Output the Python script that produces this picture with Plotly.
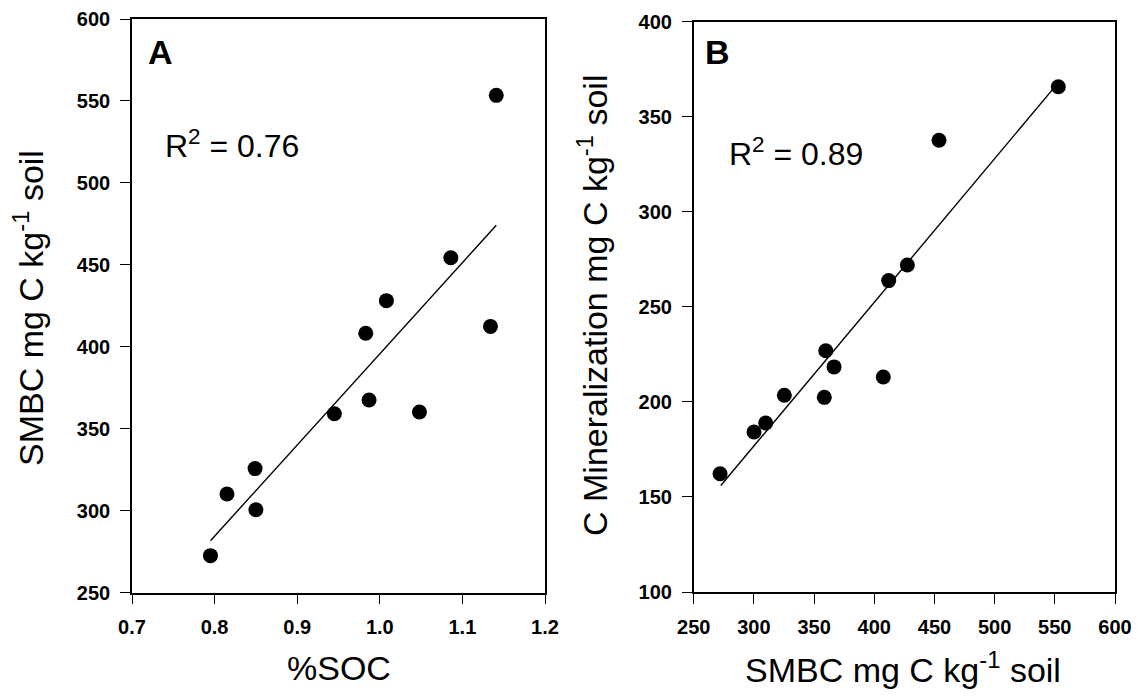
import plotly.graph_objects as go
from plotly.subplots import make_subplots

# Panel A: %SOC vs SMBC
soc_pct = [1.141, 1.086, 1.008, 0.983, 1.134, 0.987, 0.945, 1.048, 0.849, 0.815, 0.850, 0.795]
smbc_a = [553.4, 454.3, 428.1, 408.2, 412.4, 367.5, 359.1, 360.2, 325.6, 310.1, 300.5, 272.5]
fit_a_x = [0.795, 1.141]
fit_a_y = [281.6, 474.1]

# Panel B: SMBC vs C mineralization
smbc_b = [552.9, 453.8, 427.5, 412.0, 359.7, 366.6, 407.5, 325.3, 358.5, 309.8, 300.1, 271.9]
c_min = [365.8, 337.6, 272.0, 263.8, 226.9, 218.4, 213.1, 203.5, 202.4, 188.9, 184.2, 162.2]
fit_b_x = [272.5, 551.0]
fit_b_y = [156.0, 366.5]

ticks_a_x = [0.7, 0.8, 0.9, 1.0, 1.1, 1.2]
ticks_a_y = [250, 300, 350, 400, 450, 500, 550, 600]
ticks_b_x = [250, 300, 350, 400, 450, 500, 550, 600]
ticks_b_y = [100, 150, 200, 250, 300, 350, 400]

FONT = "Liberation Sans, Arial, sans-serif"
OFF = 8  # page body margin
W, H = 1144 - OFF, 698 - OFF


def px_x(p):
    return (p - OFF) / W


def px_y(p):
    return 1 - (p - OFF) / H


fig = make_subplots(rows=1, cols=2)

for col, (xs, ys, fx, fy) in enumerate([(soc_pct, smbc_a, fit_a_x, fit_a_y),
                                         (smbc_b, c_min, fit_b_x, fit_b_y)], start=1):
    fig.add_trace(go.Scatter(x=fx, y=fy, mode='lines',
                             line=dict(color='black', width=1.4),
                             showlegend=False, hoverinfo='skip'), row=1, col=col)
    fig.add_trace(go.Scatter(x=xs, y=ys, mode='markers',
                             marker=dict(color='black', size=15),
                             showlegend=False), row=1, col=col)

axis_common = dict(
    showgrid=False, zeroline=False, showline=True, mirror=True,
    linecolor='black', linewidth=1.6,
    ticks='outside', ticklen=10, tickwidth=1.4, tickcolor='black',
    tickfont=dict(family=FONT, size=20, color='black', weight='bold'),
    automargin=False,
)

fig.update_layout(
    width=W, height=H,
    margin=dict(l=0, r=0, t=0, b=0),
    plot_bgcolor='white', paper_bgcolor='white',
    showlegend=False,
    xaxis=dict(axis_common, domain=[px_x(132), px_x(545)], range=[0.7, 1.2],
               tickvals=ticks_a_x, ticktext=['%.1f' % v for v in ticks_a_x],
               ticklabelstandoff=6),
    yaxis=dict(axis_common, domain=[px_y(592.5), px_y(19)], range=[250, 600],
               tickvals=ticks_a_y, ticklabelstandoff=6),
    xaxis2=dict(axis_common, domain=[px_x(693.7), px_x(1115)], range=[250, 600],
                tickvals=ticks_b_x, ticklabelstandoff=6),
    yaxis2=dict(axis_common, domain=[px_y(592), px_y(21.7)], range=[100, 400],
                tickvals=ticks_b_y, ticklabelstandoff=6),
)

title_font = dict(family=FONT, size=34, color='black')
annotations = [
    # axis titles
    dict(text='%SOC', x=px_x(338.5), y=px_y(668), xref='paper', yref='paper',
         showarrow=False, font=title_font, xanchor='center', yanchor='middle'),
    dict(text='SMBC mg C kg<sup>-1</sup> soil', x=px_x(903), y=px_y(667),
         xref='paper', yref='paper', showarrow=False, font=title_font,
         xanchor='center', yanchor='middle'),
    dict(text='SMBC mg C kg<sup>-1</sup> soil', x=px_x(29), y=px_y(308),
         xref='paper', yref='paper', showarrow=False, font=title_font,
         textangle=-90, xanchor='center', yanchor='middle'),
    dict(text='C Mineralization mg C kg<sup>-1</sup> soil', x=px_x(592), y=px_y(306),
         xref='paper', yref='paper', showarrow=False, font=title_font,
         textangle=-90, xanchor='center', yanchor='middle'),
    # panel letters
    dict(text='<b>A</b>', x=0.717, y=580, xref='x', yref='y', showarrow=False,
         font=dict(family=FONT, size=34, color='black'), xanchor='left', yanchor='middle'),
    dict(text='<b>B</b>', x=257.7, y=384.3, xref='x2', yref='y2', showarrow=False,
         font=dict(family=FONT, size=34, color='black'), xanchor='left', yanchor='middle'),
    # R squared
    dict(text='R<sup>2</sup> = 0.76', x=0.7375, y=524, xref='x', yref='y', showarrow=False,
         font=dict(family=FONT, size=32, color='black'), xanchor='left', yanchor='middle'),
    dict(text='R<sup>2</sup> = 0.89', x=277.4, y=331.5, xref='x2', yref='y2', showarrow=False,
         font=dict(family=FONT, size=32, color='black'), xanchor='left', yanchor='middle'),
]
fig.update_layout(annotations=annotations)

fig.write_html("out.html")
